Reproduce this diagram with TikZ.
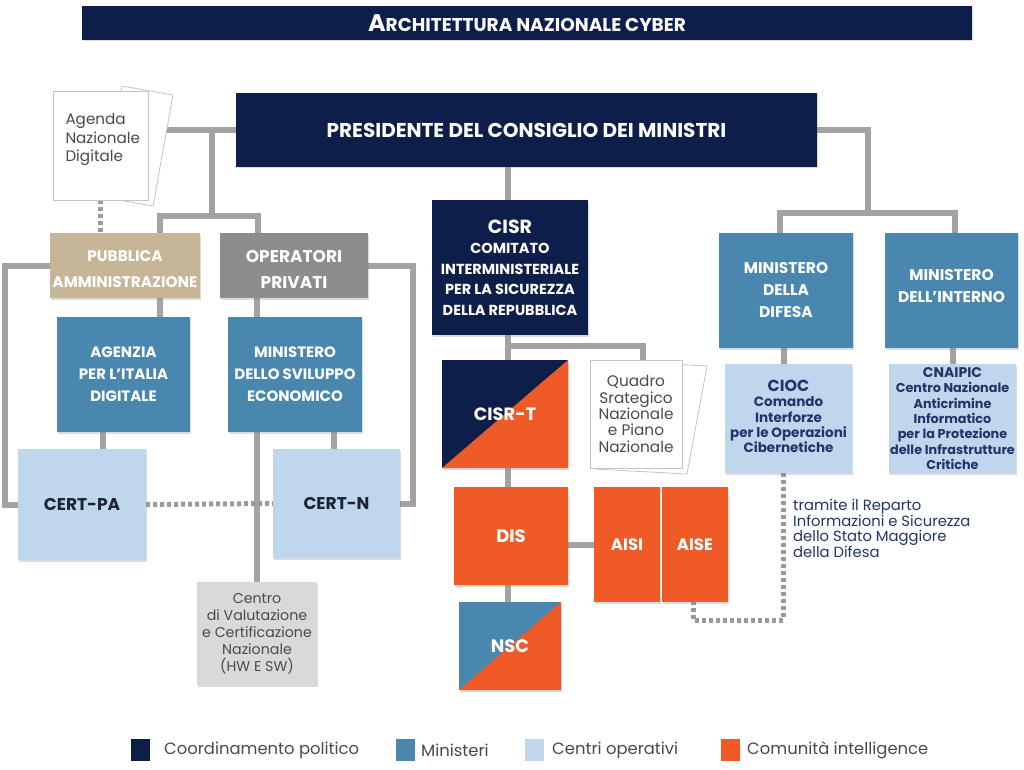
\documentclass[tikz,border=0pt]{standalone}
\usepackage{fontspec}
\setmainfont{Poppins}
\usetikzlibrary{backgrounds,shadows}
\definecolor{navy}{HTML}{0E1E4A}
\definecolor{minblue}{HTML}{4A87AE}
\definecolor{opblue}{HTML}{BFD7EC}
\definecolor{intorange}{HTML}{EF5A27}
\definecolor{beige}{HTML}{C6B697}
\definecolor{opgray}{HTML}{8D8D8D}
\definecolor{conngray}{HTML}{A3A3A3}
\definecolor{dotgray}{HTML}{9A9A9A}
\definecolor{centrogray}{HTML}{D9D9D9}
\definecolor{txtgray}{HTML}{4A4A4A}
\definecolor{darktxt}{HTML}{1C2434}
\definecolor{tramcol}{HTML}{22346A}
\definecolor{paperedge}{HTML}{C4C4C4}
\newcommand\fs[2]{\fontsize{#1}{#2}\selectfont}
\newcommand\shiftbox[3]{\raisebox{#1}[\height][\depth]{\parbox{#2}{\centering #3}}}
\begin{document}
\begin{tikzpicture}[x=1pt,y=-1pt,
  sz/.style 2 args={minimum width=#1pt, minimum height=#2pt},
  boxbase/.style={rectangle, inner sep=0pt, align=center,
    drop shadow={opacity=0.28, shadow xshift=1.2pt, shadow yshift=-1.5pt}},
  whitebold/.style={boxbase, text=white, font=\bfseries#1},
  darkbold/.style={boxbase, text=darktxt, font=\bfseries#1},
  plaintxt/.style={boxbase, text=txtgray, font=#1},
  paper/.style={rectangle, inner sep=0pt, fill=white, draw=paperedge, line width=0.8pt},
  backsheet/.style={fill=white, draw=paperedge, line width=0.8pt},
  diagfill/.style={path picture={\fill[#1] (path picture bounding box.south west) -- (path picture bounding box.south east) -- (path picture bounding box.north east) -- cycle;}},
  conn/.style={draw=conngray, line width=6pt},
  dconn/.style={draw=dotgray, line width=5pt, dash pattern=on 4pt off 3pt},
  legsq/.style={rectangle, inner sep=0pt, minimum width=19pt, minimum height=22pt},
  legtxt/.style={inner sep=0pt, anchor=west, text=txtgray, font=\fs{16.4}{16}}
]
\useasboundingbox (0,0) rectangle (1024,770);

% title
\node[whitebold={}, fill=navy, sz={890}{34}] (title) at (527,23)
  {{\fs{24}{24}A}{\fs{18.5}{18.5}RCHITETTURA NAZIONALE CYBER}};

% president
\node[whitebold={\fs{20}{20}}, fill=navy, sz={581}{74}] (pres) at (526.5,130)
  {PRESIDENTE DEL CONSIGLIO DEI MINISTRI};

% agenda paper
\filldraw[backsheet] (122,86) -- (173,95) -- (153,206) -- (102,197) -- cycle;
\node[paper, sz={95}{109}, text=txtgray] (agenda) at (100.5,145.5)
  {\raisebox{6pt}[\height][\depth]{\parbox{82pt}{\raggedright\leftskip=6pt\fs{15.2}{18.5}Agenda\\Nazionale\\Digitale}}};

% left side
\node[whitebold={\fs{15.3}{26}}, fill=beige, sz={150}{65}] (pub) at (125,265.5)
  {\shiftbox{-4pt}{150pt}{PUBBLICA\\AMMINISTRAZIONE}};
\node[whitebold={\fs{17}{26}}, fill=opgray, sz={148}{65}] (op) at (294,265.5)
  {\shiftbox{-4pt}{148pt}{OPERATORI\\PRIVATI}};
\node[whitebold={\fs{15}{22}}, fill=minblue, sz={133}{115}] (agid) at (123.5,374.5)
  {AGENZIA\\PER L’ITALIA\\DIGITALE};
\node[whitebold={\fs{15}{22}}, fill=minblue, sz={134}{115}] (mise) at (295,374.5)
  {MINISTERO\\DELLO SVILUPPO\\ECONOMICO};
\node[darkbold={\fs{17}{17}}, fill=opblue, sz={128}{111}] (certpa) at (82,504.5) {CERT-PA};
\node[darkbold={\fs{17}{17}}, fill=opblue, sz={127}{109}] (certn) at (336.5,503.5) {CERT-N};
\node[plaintxt={\fs{14.2}{17}}, fill=centrogray, sz={120}{103}] (centro) at (257,633.5)
  {Centro\\di Valutazione\\e Certificazione\\Nazionale\\(HW E SW)};

% center column
\node[whitebold={\fs{14.5}{20.5}}, fill=navy, sz={156}{135}] (cisr) at (510,267.5)
  {{\fs{19}{20}CISR}\\COMITATO\\INTERMINISTERIALE\\PER LA SICUREZZA\\DELLA REPUBBLICA};
\node[whitebold={\fs{17.8}{18}}, fill=navy, diagfill=intorange, sz={126}{108}] (cisrt) at (505,414) {CISR-T};
\filldraw[backsheet] (615,361) -- (707,366) -- (687,474) -- (595,469) -- cycle;
\node[paper, sz={92}{108}, text=txtgray, align=center, font=\fs{15.3}{16.3}] (quadro) at (636,414)
  {Quadro\\Srategico\\Nazionale\\e Piano\\Nazionale};
\node[whitebold={\fs{18}{18}}, fill=intorange, sz={114}{98}] (dis) at (511,536) {DIS};
\node[whitebold={\fs{16.5}{16.5}}, fill=intorange, sz={66}{115}] (aisi) at (627,544.5) {AISI};
\node[whitebold={\fs{16.5}{16.5}}, fill=intorange, sz={66}{115}] (aise) at (695,544.5) {AISE};
\node[whitebold={\fs{18}{18}}, fill=minblue, diagfill=intorange, sz={102}{88}] (nsc) at (510,646) {NSC};

% right side
\node[whitebold={\fs{15.5}{22}}, fill=minblue, sz={134}{115}] (dif) at (786,290.5)
  {MINISTERO\\DELLA\\DIFESA};
\node[whitebold={\fs{15.5}{22}}, fill=minblue, sz={133}{115}] (int) at (951.5,290.5)
  {\shiftbox{4pt}{133pt}{MINISTERO\\DELL’INTERNO}};
\node[darkbold={\fs{13.5}{15.3}}, text=tramcol, fill=opblue, sz={127}{109}] (cioc) at (788.5,418.5)
  {\shiftbox{2pt}{127pt}{{\fs{16}{17}CIOC}\\Comando\\Interforze\\per le Operazioni\\Cibernetiche}};
\node[darkbold={\fs{12.8}{15.3}}, text=tramcol, fill=opblue, sz={127}{109}] (cnaipic) at (952.5,418.5)
  {{\fs{14}{16}CNAIPIC}\\Centro Nazionale\\Anticrimine\\Informatico\\per la Protezione\\delle Infrastrutture\\Critiche};
\node[inner sep=0pt, anchor=north west, align=left, text=tramcol, font=\fs{14.8}{15}] (tram) at (793,499)
  {tramite il Reparto\\Informazioni e Sicurezza\\dello Stato Maggiore\\della Difesa};

% legend
\node[legsq, fill=navy] (lg1) at (140.5,750) {};
\node[legtxt] (lt1) at (164,750) {Coordinamento politico};
\node[legsq, fill=minblue] (lg2) at (405.5,750) {};
\node[legtxt] (lt2) at (421,750) {Ministeri};
\node[legsq, fill=opblue] (lg3) at (534,750) {};
\node[legtxt] (lt3) at (552,750) {Centri operativi};
\node[legsq, fill=intorange] (lg4) at (730,750) {};
\node[legtxt] (lt4) at (747,750) {Comunità intelligence};

% connectors
\begin{scope}[on background layer]
\fill[white] (0,0) rectangle (1024,770);
\draw[conn] (pres.west) -- (agenda.east |- pres.west);
\coordinate (b1) at (212,130);
\coordinate (b2) at (212,216);
\draw[conn] (b1) -- (b2);
\coordinate (pubtop) at ([xshift=35pt]pub.north);
\coordinate (optop) at ([xshift=-36pt]op.north);
\draw[conn] (pubtop) |- (b2) -| (optop);
\draw[conn] (pub.west) -- ++(-45,0) |- (certpa.west);
\draw[conn] (op.east) -- ++(45,0) |- (certn.east);
\coordinate (pubbot) at ([xshift=35pt]pub.south);
\draw[conn] (pubbot) -- (pubbot |- agid.north);
\draw[conn] (centro.north) -- (centro.north |- op.south);
\coordinate (agidbot) at ([xshift=-21pt]agid.south);
\draw[conn] (agidbot) -- (agidbot |- certpa.north);
\coordinate (certntop) at ([xshift=-3pt]certn.north);
\draw[conn] (certntop) -- (certntop |- mise.south);
\draw[dconn] (certpa.east) -- (certn.west);
\draw[dconn] (agenda.south) -- (agenda.south |- pub.north);
\coordinate (cx) at (508,0);
\draw[conn] (pres.south -| cx) -- (cisr.north -| cx);
\draw[conn] (cisr.south -| cx) -- (cisrt.north -| cx);
\draw[conn] (cisrt.south -| cx) -- (dis.north -| cx);
\draw[conn] (dis.south -| cx) -- (nsc.north -| cx);
\coordinate (qb) at (508,346);
\coordinate (qtop) at ([xshift=7pt]quadro.north);
\draw[conn] (qb) -| (qtop);
\draw[conn] (dis.east |- aisi.west) -- (aisi.west);
\coordinate (rb1) at (868,130);
\coordinate (rb2) at (868,213);
\draw[conn] (pres.east) -- (rb1) -- (rb2);
\coordinate (diftop) at ([xshift=-6pt]dif.north);
\coordinate (inttop) at ([xshift=3pt]int.north);
\draw[conn] (diftop) |- (rb2) -| (inttop);
\coordinate (cioctop) at ([xshift=-5pt]cioc.north);
\draw[conn] (cioctop) -- (cioctop |- dif.south);
\draw[conn] (cnaipic.north) -- (cnaipic.north |- int.south);
\coordinate (dc) at (0,620);
\coordinate (ciocbot) at ([xshift=-5pt]cioc.south);
\coordinate (aisebot) at ([xshift=-2pt]aise.south);
\draw[dconn] (ciocbot) -- (ciocbot |- dc) -| (aisebot);
\end{scope}
\end{tikzpicture}
\end{document}
